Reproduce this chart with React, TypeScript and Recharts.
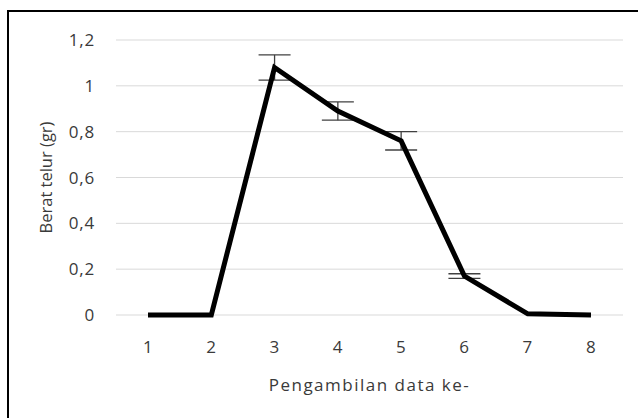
import React from 'react';
import { LineChart, Line, XAxis, YAxis, CartesianGrid, ErrorBar } from 'recharts';

const categories = ['1', '2', '3', '4', '5', '6', '7', '8'];
const weights = [0, 0, 1.08, 0.89, 0.76, 0.17, 0.005, 0];
const errors = [0, 0, 0.055, 0.04, 0.04, 0.01, 0, 0];
const yTicks = [0, 0.2, 0.4, 0.6, 0.8, 1, 1.2];

const data = categories.map((c, i) => ({ name: c, value: weights[i], err: errors[i] }));

const FONT = '"Open Sans", sans-serif';
const TEXT = '#3a3a3a';
const fmt = (v: number) => String(Math.round(v * 10) / 10).replace('.', ',');

const YLabel = (props: any) => {
  const vb = props.viewBox || {};
  const cx = 38;
  const cy = (vb.y || 0) + (vb.height || 0) / 2;
  return (
    <text
      x={cx}
      y={cy}
      transform={`rotate(-90 ${cx} ${cy})`}
      textAnchor="middle"
      dominantBaseline="central"
      fill={TEXT}
      fontSize={16.5}
      fontFamily={FONT}
    >
      Berat telur (gr)
    </text>
  );
};

export default function App() {
  return (
    <div
      style={{
        position: 'absolute',
        left: 7,
        top: 10,
        width: 631,
        height: 408,
        borderTop: '2px solid #000',
        borderLeft: '2px solid #000',
        boxSizing: 'border-box',
        background: '#fff',
      }}
    >
      <div style={{ position: 'absolute', left: -2, top: -2 }}>
        <LineChart width={631} height={408} data={data} margin={{ top: 30, right: 15, left: 0, bottom: 0 }}>
          <CartesianGrid vertical={false} stroke="#d9d9d9" strokeWidth={1} />
          <XAxis
            dataKey="name"
            axisLine={false}
            tickLine={false}
            tickSize={0}
            tickMargin={26}
            height={103}
            padding={{ left: 32, right: 32 }}
            tick={{ fill: TEXT, fontSize: 17, fontFamily: FONT, letterSpacing: 0.5 }}
            label={{
              value: 'Pengambilan data ke-',
              position: 'insideBottom',
              offset: 27,
              fill: TEXT,
              fontSize: 17,
              letterSpacing: 1.5,
              fontFamily: FONT,
            }}
          />
          <YAxis
            domain={[0, 1.2]}
            ticks={yTicks}
            tickFormatter={fmt}
            axisLine={false}
            tickLine={false}
            tickSize={0}
            tickMargin={21}
            width={109}
            tick={{ fill: TEXT, fontSize: 17, fontFamily: FONT, letterSpacing: 0.8 }}
            label={<YLabel />}
          />
          <Line
            type="linear"
            dataKey="value"
            stroke="#000"
            strokeWidth={5}
            dot={false}
            activeDot={false}
            isAnimationActive={false}
          >
            <ErrorBar dataKey="err" width={16} stroke="#404040" strokeWidth={1.3} />
          </Line>
        </LineChart>
      </div>
    </div>
  );
}
